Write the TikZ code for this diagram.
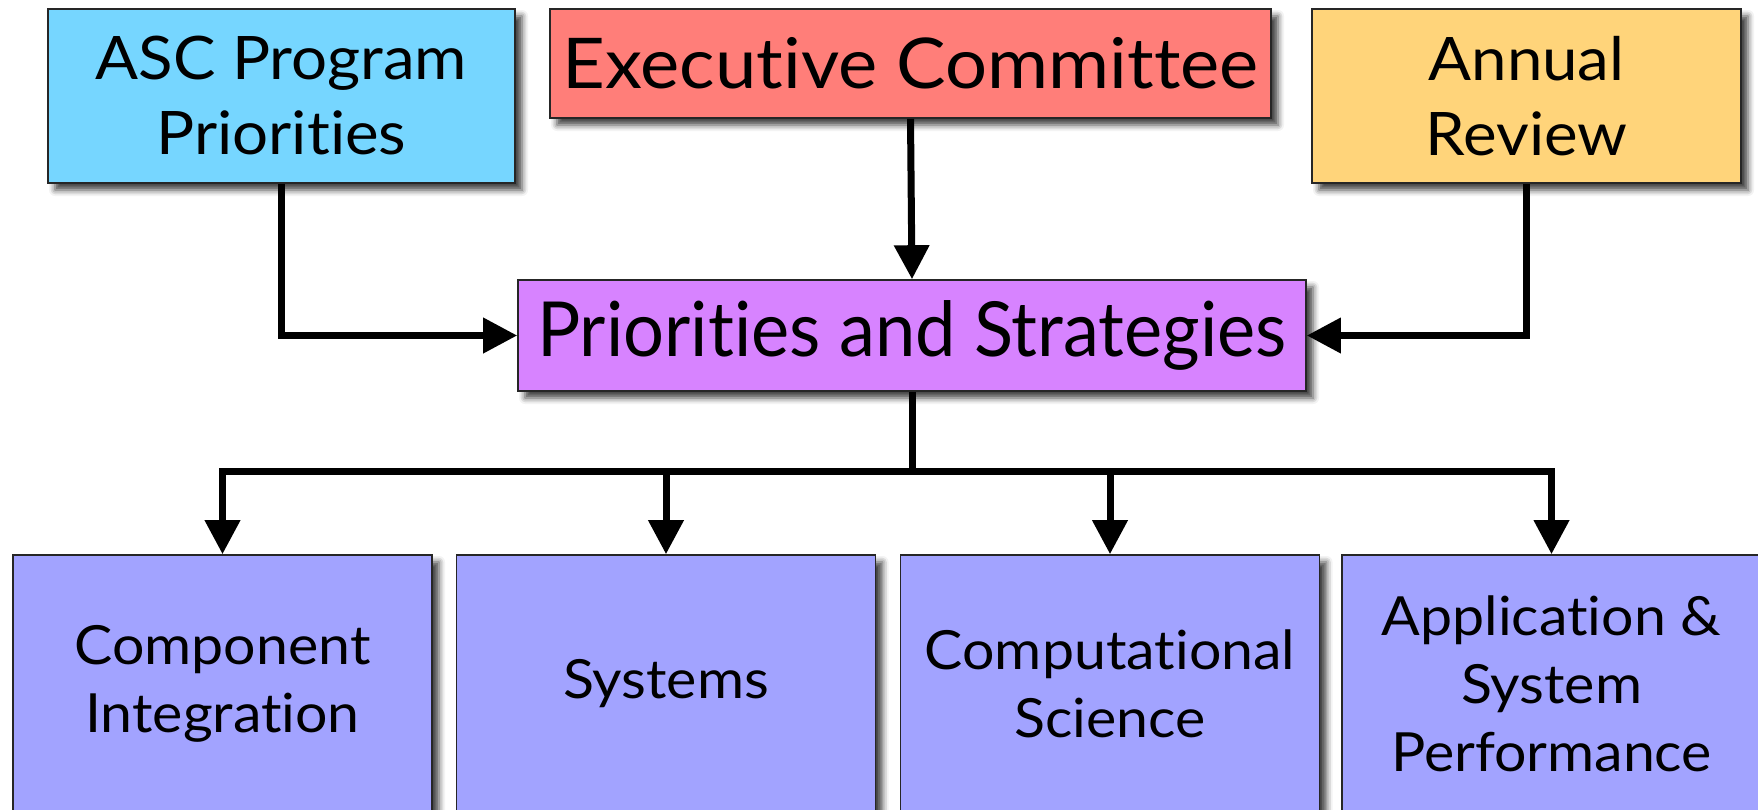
\documentclass[tikz,border=0pt]{standalone}
\usepackage{fontspec}
\defaultfontfeatures{Ligatures={NoCommon,NoContextual,NoRare}}
\setmainfont{Lato}
\newfontfamily\wideLato{Lato}[FakeStretch=1.06,Ligatures={NoCommon,NoContextual,NoRare}]
\newfontfamily\psLato{Lato}[FakeStretch=0.95,Ligatures={NoCommon,NoContextual,NoRare}]
\usetikzlibrary{arrows.meta,shadows.blur}
\definecolor{skyc}{HTML}{76D6FF}
\definecolor{salmonc}{HTML}{FF7E79}
\definecolor{cantc}{HTML}{FFD47A}
\definecolor{lavc}{HTML}{D783FF}
\definecolor{periwc}{HTML}{A2A3FF}
\begin{document}
\begin{tikzpicture}[x=1pt,y=1pt,
  box/.style={draw=black!85, line width=1.6pt, inner sep=0pt, align=center,
    blur shadow={shadow xshift=7pt, shadow yshift=-7pt, shadow blur radius=6pt, shadow opacity=75}},
  ln/.style={line width=7pt, draw=black},
  arr/.style={ln, -{Triangle[width=34pt,length=34pt]}},
  topfont/.style={font=\wideLato\fontsize{60}{75}\selectfont},
  botfont/.style={font=\wideLato\fontsize{54}{68}\selectfont}]
\useasboundingbox (0,0) rectangle (1758,-809);
\clip (0,0) rectangle (1758,-809);
\node[box, fill=skyc, minimum width=467, minimum height=174, topfont] (asc) at (281.5,-96) {ASC Program\\Priorities};
\node[box, fill=salmonc, minimum width=721, minimum height=109, font=\wideLato\fontsize{70}{75}\selectfont] (exec) at (910.5,-63.5) {Executive Committee};
\node[box, fill=cantc, minimum width=429, minimum height=174, topfont] (ann) at (1526.5,-96) {Annual\\Review};
\node[box, fill=lavc, minimum width=788, minimum height=111, font=\psLato\fontsize{76}{75}\selectfont] (ps) at (912,-335.5) {Priorities and Strategies};
\node[box, fill=periwc, minimum width=419, minimum height=258, botfont] (b1) at (222.5,-684) {Component\\Integration};
\node[box, fill=periwc, minimum width=419, minimum height=258, botfont] (b2) at (666,-684) {Systems};
\node[box, fill=periwc, minimum width=419, minimum height=258, botfont] (b3) at (1110,-684) {Computational\\Science};
\node[box, fill=periwc, minimum width=419, minimum height=258, botfont] (b4) at (1551.5,-684) {Application \&\\System\\Performance};
\draw[arr] (asc.south) |- (ps.west);
\draw[arr] (exec.south) -- (ps.north);
\draw[arr] (ann.south) |- (ps.east);
\draw[ln] (ps.south) -- ++(0,-80) coordinate (j);
\foreach \b in {b1,b2,b3,b4}{\draw[arr] (j) -| (\b.north);}
\end{tikzpicture}
\end{document}
